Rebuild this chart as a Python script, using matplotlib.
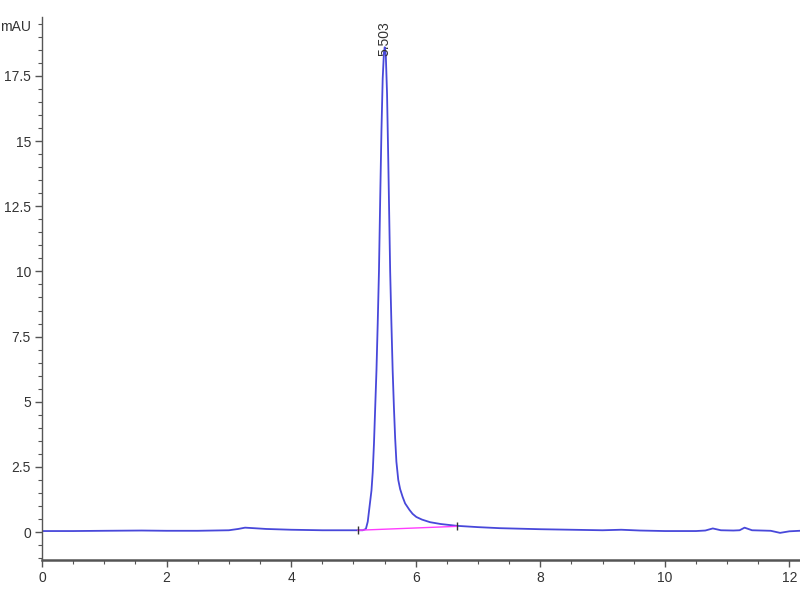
import matplotlib.pyplot as plt
from matplotlib import ticker

# chromatogram trace (time in min, signal in mAU)
time_min = [0.0, 0.5, 1.0, 1.6, 2.0, 2.5, 3.0, 3.15, 3.26, 3.4, 3.6, 4.0, 4.5, 5.0,
            5.15, 5.20, 5.23, 5.26, 5.29, 5.31, 5.33, 5.35, 5.37, 5.39, 5.41, 5.43, 5.45,
            5.47, 5.49, 5.503, 5.52, 5.54, 5.56, 5.59, 5.61, 5.63, 5.65, 5.67, 5.69, 5.72,
            5.75, 5.79, 5.83, 5.90, 5.95, 6.01, 6.10, 6.23, 6.40, 6.66, 7.0, 7.35, 8.0, 8.5,
            9.0, 9.3, 9.6, 10.0, 10.5, 10.65, 10.77, 10.9, 11.1, 11.2, 11.28, 11.4,
            11.7, 11.85, 12.0, 12.17]
signal = [0.04, 0.04, 0.05, 0.06, 0.05, 0.05, 0.07, 0.12, 0.17, 0.15, 0.12, 0.09, 0.07, 0.07,
          0.07, 0.12, 0.4, 1.0, 1.6, 2.3, 3.4, 4.8, 6.2, 8.0, 10.0, 12.8, 15.4,
          17.4, 18.4, 18.6, 18.3, 16.8, 14.2, 10.0, 8.0, 6.2, 4.8, 3.6, 2.7, 2.0,
          1.65, 1.35, 1.1, 0.85, 0.7, 0.58, 0.48, 0.38, 0.31, 0.24, 0.19, 0.15, 0.11, 0.09,
          0.07, 0.09, 0.06, 0.04, 0.04, 0.06, 0.14, 0.07, 0.06, 0.07, 0.17, 0.07,
          0.05, -0.03, 0.03, 0.05]

# integration baseline of the main peak
base_t = [5.07, 6.66]
base_y = [0.07, 0.22]

peak_rt = 5.503
peak_label = "5.503"

plt.rcParams["font.family"] = ["Liberation Sans", "DejaVu Sans"]

fig = plt.figure(figsize=(8, 6), dpi=100)
ax = fig.add_axes([0.0525, 0.0667, 0.9475, 0.905])

ax.plot(time_min, signal, color="#4848da", lw=1.3)
ax.plot(base_t, base_y, color="#ff3cff", lw=1.0)
ax.plot(base_t, base_y, ls="none", marker="|", ms=6, mew=1.0, color="#333333")

ax.text(peak_rt, 18.25, peak_label, rotation=90, ha="center", va="bottom",
        fontsize=10, color="#333333", clip_on=False)

ax.set_xlim(0, 12.17)
ax.set_ylim(-1.07, 19.76)

ax.xaxis.set_major_locator(ticker.MultipleLocator(2))
ax.xaxis.set_minor_locator(ticker.MultipleLocator(0.5))
ax.yaxis.set_major_locator(ticker.MultipleLocator(2.5))
ax.yaxis.set_minor_locator(ticker.MultipleLocator(0.5))
ax.yaxis.set_major_formatter(ticker.FormatStrFormatter("%g"))

for side in ["top", "right"]:
    ax.spines[side].set_visible(False)
ax.spines["left"].set_color("#555555")
ax.spines["left"].set_linewidth(1.0)
ax.spines["bottom"].set_color("#555555")
ax.spines["bottom"].set_linewidth(1.8)

ax.tick_params(which="major", length=5, width=1, color="#555555",
               labelsize=10, labelcolor="#333333", pad=3)
ax.tick_params(which="minor", length=3, width=0.8, color="#555555")

fig.text(0.0, 1 - 27 / 600, "mAU", ha="left", va="center", fontsize=10, color="#333333")

fig.savefig("out.png", dpi=100)
